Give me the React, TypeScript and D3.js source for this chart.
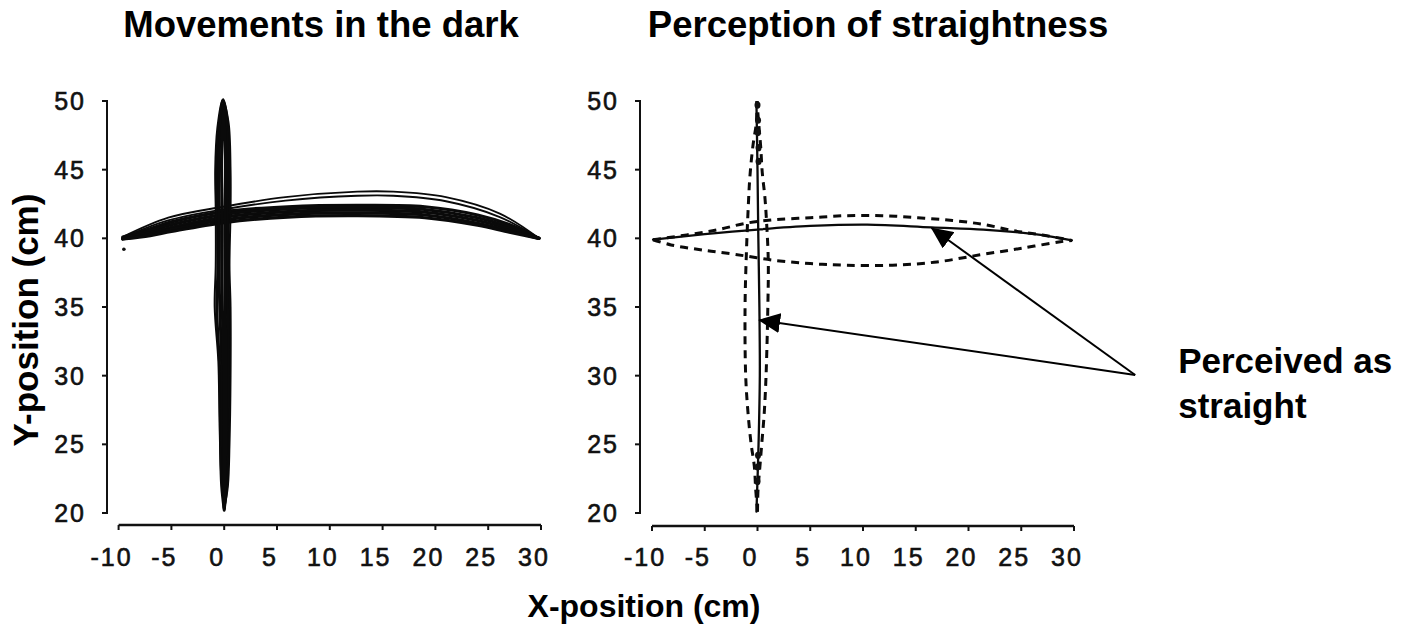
import React from 'react';
import * as d3 from 'd3';

const WIDTH = 1425;
const HEIGHT = 625;
const FONT = '"Liberation Sans", Arial, Helvetica, sans-serif';

const xTicks = [-10, -5, 0, 5, 10, 15, 20, 25, 30];
const yTicks = [20, 25, 30, 35, 40, 45, 50];

const titles = ['Movements in the dark', 'Perception of straightness'];
const xLabel = 'X-position (cm)';
const yLabel = 'Y-position (cm)';
const noteLines = ['Perceived as', 'straight'];

// left panel: recorded reaches in the dark, [x, y] in cm
const darkUpperA = [[-9.6, 40.1], [-5.3, 41.5], [-0.1, 42.3], [5.8, 43.0], [12.6, 43.4], [16, 43.4], [21, 43.0], [26.1, 41.8], [29.8, 40]];
const darkUpperB = [[-9.6, 40.05], [-5.3, 41.3], [-0.1, 42.1], [5.8, 42.75], [12.6, 43.1], [16, 43.1], [21, 42.7], [26.1, 41.55], [29.8, 40]];
const darkBandA = [[-9.6, 40.1], [-7, 40.7], [-5, 41.2], [0, 41.95], [6, 42.3], [12.6, 42.4], [19, 42.3], [24, 41.7], [27, 41.0], [29.8, 40]];
const darkBandB = [[-9.6, 40], [-7, 40.55], [-5, 41.0], [0, 41.75], [6, 42.15], [12.6, 42.25], [19, 42.1], [24, 41.5], [27, 40.85], [29.8, 40]];
const darkBandC = [[-9.6, 40], [-7, 40.4], [-5, 40.8], [0, 41.55], [6, 41.95], [12.6, 42.05], [19, 41.9], [24, 41.3], [27, 40.7], [29.8, 40]];
const darkBandD = [[-9.6, 39.95], [-7, 40.3], [-5, 40.65], [0, 41.35], [6, 41.75], [12.6, 41.85], [19, 41.7], [24, 41.1], [27, 40.55], [29.8, 40]];
const darkBandE = [[-9.6, 39.95], [-7, 40.2], [-5, 40.5], [0, 41.15], [6, 41.55], [12.6, 41.65], [19, 41.5], [24, 40.95], [27, 40.45], [29.8, 40]];
const darkVertWide = [[0, 20.3], [-0.3, 23], [-0.45, 27], [-0.55, 31], [-0.9, 35], [-0.8, 38], [-0.8, 42], [-0.85, 45], [-0.65, 48], [-0.15, 50.1], [0.4, 48.5], [0.6, 45], [0.6, 42], [0.5, 38], [0.6, 35], [0.6, 30], [0.5, 25], [0.35, 22], [0, 20.3]];
const darkVertOuter = [[0, 20.2], [-0.25, 22], [-0.35, 25], [-0.4, 30], [-0.7, 35], [-0.6, 38], [-0.65, 42], [-0.7, 45], [-0.5, 48], [-0.1, 50.1], [0.3, 48.5], [0.45, 45], [0.42, 42], [0.35, 38], [0.45, 35], [0.45, 30], [0.38, 25], [0.25, 22], [0, 20.2]];
const darkVertMid = [[0, 20.3], [-0.12, 23], [-0.2, 27], [-0.25, 31], [-0.45, 36], [-0.45, 41], [-0.5, 45], [-0.35, 48], [-0.05, 49.9], [0.2, 48], [0.3, 45], [0.28, 41], [0.3, 36], [0.35, 31], [0.3, 27], [0.18, 23], [0, 20.3]];
const darkVertCore = [[0, 20.4], [-0.05, 24], [-0.05, 30], [-0.2, 36], [-0.2, 42], [-0.25, 46], [-0.05, 49.5], [0.1, 46], [0.1, 42], [0.1, 36], [0.15, 30], [0.12, 24], [0, 20.4]];
const darkStray = [[-9.5, 39.2]];

// right panel: perceived-straight paths (solid) and the limits (dashed)
const straightHoriz = [[-9.9, 39.9], [-5, 40.3], [0, 40.64], [5, 40.9], [10.4, 41.0], [16.5, 40.8], [21.4, 40.64], [24.5, 40.45], [27.7, 40.15], [29.8, 39.85]];
const straightVert = [[-0.1, 20.1], [0.1, 25], [0.22, 30], [0.18, 35], [0.08, 40], [0, 45], [-0.1, 49.85]];
const limitUpper = [[-9.9, 39.9], [-6.7, 40.25], [-3.8, 40.62], [-1.1, 41.1], [1.6, 41.35], [5, 41.5], [8.4, 41.65], [11.8, 41.65], [15.2, 41.5], [18.5, 41.3], [21.5, 41.0], [24.3, 40.55], [27, 40.24], [29.8, 39.85]];
const limitLower = [[-9.9, 39.9], [-8.2, 39.52], [-5.2, 39.15], [-2.1, 38.83], [1.6, 38.4], [5, 38.16], [8.4, 38.04], [12.8, 38.04], [17, 38.28], [21.1, 38.8], [24.9, 39.26], [28.7, 39.75], [29.8, 39.85]];
const limitLeft = [[0, 20.1], [-0.17, 21.7], [-0.3, 23.4], [-0.6, 25], [-0.9, 27.3], [-1.12, 30], [-1.18, 35], [-1.05, 39], [-0.87, 42.4], [-0.72, 44.5], [-0.44, 46.7], [-0.1, 48.5], [-0.05, 50]];
const limitRight = [[0, 20.1], [0.05, 21.7], [0.23, 23.4], [0.4, 25], [0.64, 27.3], [0.81, 30], [0.98, 35], [1.02, 38.4], [0.85, 41.3], [0.7, 43], [0.45, 44.8], [0.3, 46.7], [0.1, 48.5], [-0.05, 50]];
const limitBlobs = [[0, 49.7], [0.05, 48.6], [0.05, 47.7], [0.1, 46.6], [0.1, 45.6], [0.05, 24.2], [0, 23.35], [0, 22.3]];

// annotation: label anchor and the two arrow targets, in right-panel cm
const noteAnchor = [35.8, 30.05];
const noteTargets = [[16.5, 40.75], [0.15, 34.05]];

const yScale = d3.scaleLinear().domain([20, 50]).range([513, 101]);
const xLeft = d3.scaleLinear().domain([-10, 30]).range([118.6, 541]);
const xRight = d3.scaleLinear().domain([-10, 30]).range([652, 1074]);

const Axes = ({ x, axisX, axisY }) => (
  <g stroke="#111" fill="none">
    <line x1={axisX} x2={axisX} y1={yScale(20) + 1} y2={yScale(50) - 1} strokeWidth={2} />
    {yTicks.map((t) => (
      <g key={t}>
        <line x1={axisX - 5} x2={axisX} y1={yScale(t)} y2={yScale(t)} strokeWidth={2} />
        <text x={axisX - 21} y={yScale(t) + 9} textAnchor="end" stroke="#111" strokeWidth={0.6} fill="#111"
          fontFamily={FONT} fontSize={25} letterSpacing={2}>{t}</text>
      </g>
    ))}
    <line x1={x(-10)} x2={x(30)} y1={axisY} y2={axisY} strokeWidth={2.4} />
    {xTicks.map((t) => (
      <g key={t}>
        <line x1={x(t)} x2={x(t)} y1={axisY} y2={axisY + 5} strokeWidth={2} />
        <text x={x(t) - 7} y={566} textAnchor="middle" stroke="#111" strokeWidth={0.6} fill="#111"
          fontFamily={FONT} fontSize={25} letterSpacing={2}>{t}</text>
      </g>
    ))}
  </g>
);

const App = () => {
  const lineL = d3.line().x((d) => xLeft(d[0])).y((d) => yScale(d[1])).curve(d3.curveCatmullRom);
  const lineR = d3.line().x((d) => xRight(d[0])).y((d) => yScale(d[1])).curve(d3.curveCatmullRom);

  const darkTraces = [
    { pts: darkUpperA, w: 1.8 },
    { pts: darkUpperB, w: 1.8 },
    { pts: darkBandA, w: 3.2 },
    { pts: darkBandB, w: 3.2 },
    { pts: darkBandC, w: 3.2 },
    { pts: darkBandD, w: 3.2 },
    { pts: darkBandE, w: 3.2 },
    { pts: darkVertWide, w: 2 },
    { pts: darkVertOuter, w: 2.8 },
    { pts: darkVertMid, w: 3 },
    { pts: darkVertCore, w: 3 },
  ];

  const [ax, ay] = [xRight(noteAnchor[0]), yScale(noteAnchor[1])];

  return (
    <svg width={WIDTH} height={HEIGHT} style={{ position: 'absolute', left: 0, top: 0, background: '#fff' }}>
      <defs>
        <marker id="head" viewBox="0 0 22 20" refX={21} refY={10} markerWidth={22} markerHeight={20}
          markerUnits="userSpaceOnUse" orient="auto">
          <path d="M0,0 L22,10 L0,20 Z" fill="#000" />
        </marker>
      </defs>
      <rect width={WIDTH} height={HEIGHT} fill="#fff" />

      <g fontFamily={FONT} fontWeight="bold" fill="#000">
        <text x={321} y={37} textAnchor="middle" fontSize={36.5}>{titles[0]}</text>
        <text x={878} y={37} textAnchor="middle" fontSize={36.5}>{titles[1]}</text>
        <text x={644} y={617} textAnchor="middle" fontSize={32}>{xLabel}</text>
        <text transform={`translate(38,320) rotate(-90)`} textAnchor="middle" fontSize={35}>{yLabel}</text>
        <text x={ax + 43} y={ay - 2} fontSize={35}>{noteLines[0]}</text>
        <text x={ax + 43} y={ay + 43} fontSize={35}>{noteLines[1]}</text>
      </g>

      <Axes x={xLeft} axisX={107} axisY={525} />
      <Axes x={xRight} axisX={640} axisY={526} />

      {/* movements in the dark */}
      <g fill="none" stroke="#0a0a0a" strokeLinejoin="round" strokeLinecap="round">
        {darkTraces.map((t, i) => (
          <path key={i} d={lineL(t.pts)} strokeWidth={t.w} />
        ))}
      </g>
      {darkStray.map((d, i) => (
        <circle key={i} cx={xLeft(d[0])} cy={yScale(d[1])} r={1.8} fill="#111" />
      ))}

      {/* perception of straightness */}
      <g fill="none" stroke="#0a0a0a">
        {[limitUpper, limitLower, limitLeft, limitRight].map((pts, i) => (
          <path key={i} d={lineR(pts)} strokeWidth={3} strokeDasharray="8,6" />
        ))}
        <path d={lineR(straightHoriz)} strokeWidth={2.3} strokeLinecap="round" />
        <path d={lineR(straightVert)} strokeWidth={2.3} strokeLinecap="round" />
      </g>
      {limitBlobs.map((d, i) => (
        <ellipse key={i} cx={xRight(d[0])} cy={yScale(d[1])} rx={3} ry={3.6} fill="#111" />
      ))}

      <g stroke="#000" strokeWidth={2}>
        {noteTargets.map((t, i) => (
          <line key={i} x1={ax} y1={ay} x2={xRight(t[0])} y2={yScale(t[1])} markerEnd="url(#head)" />
        ))}
      </g>
    </svg>
  );
};

export default App;
